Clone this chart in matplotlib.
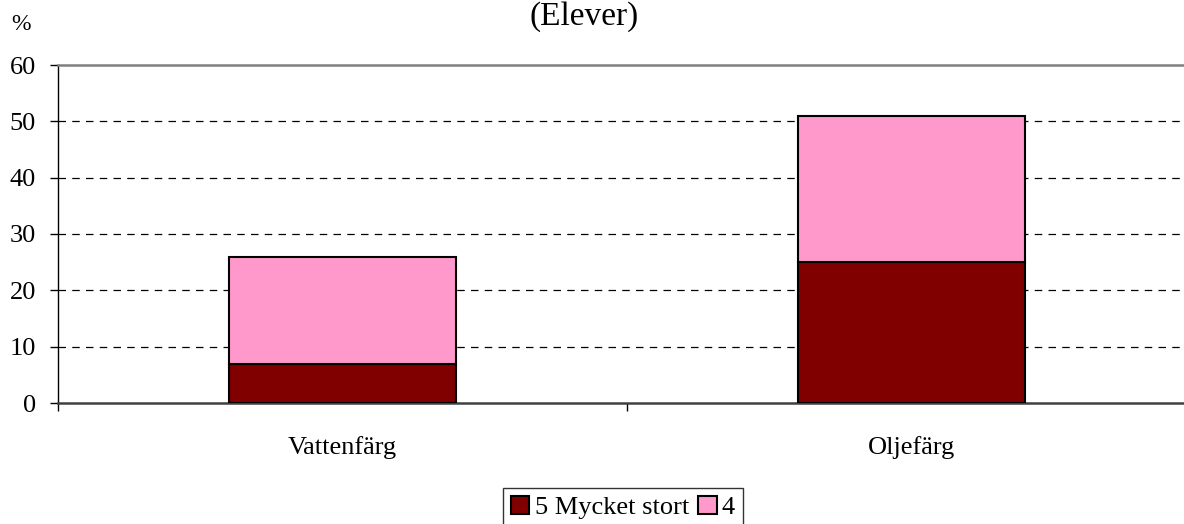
import matplotlib
matplotlib.use("Agg")
import matplotlib.pyplot as plt
from matplotlib.patches import Patch

categories = ["Vattenfärg", "Oljefärg"]
series_names = ["5 Mycket stort", "4"]
val_5 = [7, 25]
val_4 = [19, 26]
yticks = [0, 10, 20, 30, 40, 50, 60]

plt.rcParams['font.family'] = ['Liberation Serif', 'DejaVu Serif']

W, H = 1184, 524
fig = plt.figure(figsize=(W / 100, H / 100), dpi=100)
left, right, top, bottom = 58, 1196, 65, 403
ax = fig.add_axes([left / W, (H - bottom) / H, (right - left) / W, (bottom - top) / H])

x = list(range(len(categories)))
ax.bar(x, val_5, width=0.4, color="#800000", edgecolor="black", linewidth=1.5, zorder=3)
ax.bar(x, val_4, bottom=val_5, width=0.4, color="#FF99CC", edgecolor="black", linewidth=1.5, zorder=3)

ax.set_xlim(-0.5, len(categories) - 0.5)
ax.set_ylim(0, 60)
ax.set_yticks(yticks)
ax.set_yticklabels([str(t) for t in yticks], fontsize=19)
for t in yticks[1:-1]:
    ax.axhline(t, color="black", linestyle=(0, (6, 5)), linewidth=0.9, zorder=1)

ax.set_xticks([i - 0.5 for i in range(len(categories) + 1)])
ax.set_xticklabels([])
ax.set_xticks(x, minor=True)
ax.set_xticklabels(categories, minor=True, fontsize=19)
ax.tick_params(axis='x', which='minor', length=0, pad=24)
ax.tick_params(axis='x', which='major', length=6, width=1, direction='out')
ax.tick_params(axis='y', length=6, width=1, direction='out', pad=10)

ax.spines['top'].set_color('#808080')
ax.spines['top'].set_linewidth(1.8)
ax.spines['right'].set_visible(False)
ax.spines['bottom'].set_color('#404040')
ax.spines['bottom'].set_linewidth(1.8)
ax.spines['left'].set_color('black')
ax.spines['left'].set_linewidth(1.0)

fig.text(11 / W, 1 - 25 / H, "%", fontsize=17, ha='left', va='center')
fig.text(584 / W, 1 - 17 / H, "(Elever)", fontsize=24, ha='center', va='center')

handles = [Patch(facecolor="#800000", edgecolor="black", linewidth=1.5),
           Patch(facecolor="#FF99CC", edgecolor="black", linewidth=1.5)]
leg = fig.legend(handles, series_names, loc='upper left', bbox_to_anchor=(503 / W, 1 - 488 / H),
                 ncol=2, fontsize=19, frameon=True, fancybox=False, edgecolor='black',
                 handlelength=0.7, handleheight=0.7, handletextpad=0.2, columnspacing=0.35,
                 borderpad=0.3, borderaxespad=0)
leg.get_frame().set_linewidth(1.0)

fig.savefig("out.png", dpi=100)
